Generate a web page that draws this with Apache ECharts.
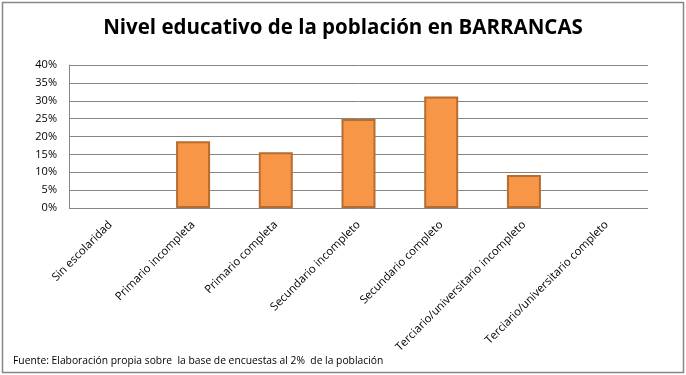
<!DOCTYPE html>
<html><head><meta charset="utf-8">
<script src="https://cdn.jsdelivr.net/npm/echarts@6/dist/echarts.min.js"></script>
<style>html,body{margin:0;padding:0;background:#fff}#c{width:686px;height:375px}</style>
</head><body><div id="c"></div>
<script>
const categories = ["Sin escolaridad","Primario incompleta","Primario completa","Secundario incompleto","Secundario completo","Terciario/universitario incompleto","Terciario/universitario completo"];
const values = [0, 18.7, 15.6, 24.9, 31.2, 9.2, 0];
const yTicks = [0, 5, 10, 15, 20, 25, 30, 35, 40];
const titleText = "Nivel educativo de la población en BARRANCAS";
const sourceText = "Fuente: Elaboración propia sobre  la base de encuestas al 2%  de la población";

const chart = echarts.init(document.getElementById('c'), null, {renderer:'canvas'});
chart.setOption({
  animation:false,
  backgroundColor:'#fff',
  title:[
    {text:titleText,left:'center',top:13,textStyle:{fontFamily:'Open Sans',fontWeight:'bold',fontSize:20.5,color:'#000'}},
    {text:sourceText,left:8,top:351,textStyle:{fontFamily:'Open Sans',fontWeight:'normal',fontSize:10.3,color:'#000'}}
  ],
  graphic:[{type:'rect',shape:{x:2.5,y:2.5,width:681,height:370},style:{fill:null,stroke:'#868686',lineWidth:1.5},silent:true}],
  grid:{left:69,right:38,top:65,bottom:167,containLabel:false},
  xAxis:{type:'category',data:categories,
    axisLine:{show:false},axisTick:{show:false},
    axisLabel:{rotate:45,interval:0,fontFamily:'Open Sans',fontSize:11.3,color:'#000',margin:15}},
  yAxis:{type:'value',min:yTicks[0],max:yTicks[yTicks.length-1],interval:5,
    axisLine:{show:true,lineStyle:{color:'#868686',width:1}},axisTick:{show:false},
    splitLine:{lineStyle:{color:'#868686',width:1}},
    axisLabel:{formatter:v=>v+'%',fontFamily:'Open Sans',fontSize:11,color:'#000',margin:12}},
  series:[{type:'bar',barWidth:34,
    data:values.map(v => v === 0 ? {value:v,itemStyle:{borderWidth:0,opacity:0}} : v),
    itemStyle:{color:'#F79646',borderColor:'#B66D31',borderWidth:2}}]
});
</script></body></html>
